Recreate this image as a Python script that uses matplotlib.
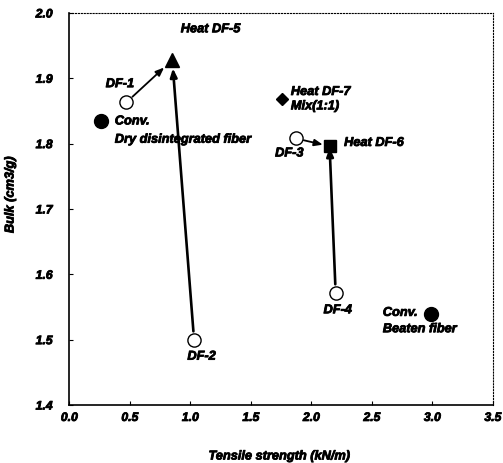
import matplotlib
matplotlib.use("Agg")
import matplotlib.pyplot as plt
import matplotlib.patheffects as pe

plt.rcParams['font.family'] = ['Liberation Sans', 'DejaVu Sans']

# Data
open_names = ["DF-1", "DF-2", "DF-3", "DF-4"]
open_x = [0.47, 1.03, 1.87, 2.20]
open_y = [1.863, 1.500, 1.808, 1.572]

conv_names = ["Conv.\nDry disintegrated fiber", "Conv.\nBeaten fiber"]
conv_x = [0.26, 2.99]
conv_y = [1.834, 1.540]

heat5 = (0.85, 1.928)   # triangle
heat6 = (2.15, 1.796)   # square
heat7 = (1.76, 1.868)   # diamond

xticks = [0.0, 0.5, 1.0, 1.5, 2.0, 2.5, 3.0, 3.5]
yticks = [1.4, 1.5, 1.6, 1.7, 1.8, 1.9, 2.0]

fig = plt.figure(figsize=(5.03, 4.64), dpi=100)
ax = fig.add_axes([0.138, 0.125, 0.842, 0.845])

heavy = [pe.withStroke(linewidth=0.6, foreground='black')]
fs = 9.2
tfont = dict(fontsize=fs, fontweight='bold', fontstyle='italic')
tkfont = dict(fontsize=8.8, fontweight='bold', fontstyle='italic')

# arrows / lines
def arrow(p0, p1, lw, sa, sb):
    ax.annotate("", xy=p1, xytext=p0,
                arrowprops=dict(arrowstyle="-|>,head_length=0.5,head_width=0.2",
                                lw=lw, color='black', shrinkA=sa, shrinkB=sb),
                zorder=2)

arrow((open_x[0], open_y[0]), heat5, 1.3, 6, 8)
arrow((open_x[1], open_y[1]), heat5, 1.9, 6, 6)
arrow((open_x[2], open_y[2]), heat6, 1.3, 6, 5)
arrow((open_x[3], open_y[3]), heat6, 1.9, 6, 1)

ax.plot(open_x, open_y, 'o', ms=9.5, mfc='white', mec='black', mew=1.0, ls='none', zorder=3)
ax.plot(conv_x, conv_y, 'o', ms=10, mfc='black', mec='black', ls='none', zorder=3)
ax.plot([heat5[0]], [heat5[1]], '^', ms=9.5, color='black', zorder=3)
ax.plot([heat6[0]], [heat6[1]], 's', ms=8.5, color='black', zorder=3)
ax.plot([heat7[0]], [heat7[1]], 'D', ms=6.5, color='black', zorder=3)

# labels
def lab(x, y, s):
    ax.text(x, y, s, va='center', ha='left', path_effects=heavy, **tfont)

lab(0.92, 1.975, "Heat DF-5")
lab(0.30, 1.891, "DF-1")
lab(0.375, 1.834, "Conv.")
lab(0.375, 1.806, "Dry disintegrated fiber")
lab(0.975, 1.474, "DF-2")
lab(1.83, 1.879, "Heat DF-7")
lab(1.83, 1.857, "Mix(1:1)")
lab(2.27, 1.801, "Heat DF-6")
lab(1.70, 1.785, "DF-3")
lab(2.10, 1.545, "DF-4")
lab(2.59, 1.541, "Conv.")
lab(2.59, 1.516, "Beaten fiber")

ax.set_xlim(0, 3.5)
ax.set_ylim(1.4, 2.0)
ax.set_xticks(xticks)
ax.set_yticks(yticks)
ax.set_xticklabels([f"{v:.1f}" for v in xticks], path_effects=heavy, **tkfont)
ax.set_yticklabels([f"{v:.1f}" for v in yticks], path_effects=heavy, **tkfont)
ax.tick_params(direction='in', length=3, width=0.8)
ax.tick_params(axis='x', pad=5)
ax.tick_params(axis='y', pad=12)

for s in ['top', 'right']:
    ax.spines[s].set_linestyle(':')
    ax.spines[s].set_linewidth(0.8)
for s in ['left', 'bottom']:
    ax.spines[s].set_linewidth(1.2)

ax.set_xlabel("Tensile strength (kN/m)", path_effects=heavy, **tfont)
ax.xaxis.set_label_coords(0.495, -0.116)
ax.set_ylabel("Bulk (cm3/g)", path_effects=heavy, **tfont)
ax.yaxis.set_label_coords(-0.125, 0.536)

fig.savefig("out.png", dpi=100)
